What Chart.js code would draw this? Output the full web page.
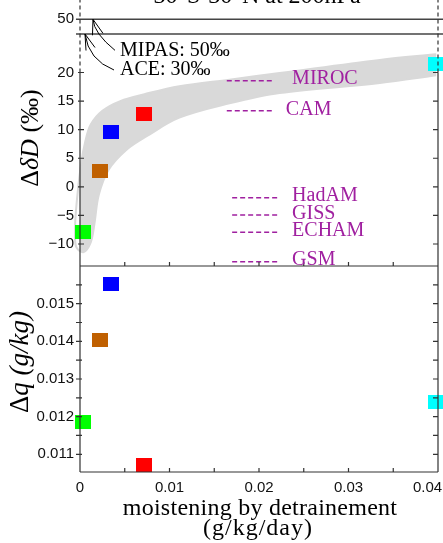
<!DOCTYPE html>
<html>
<head>
<meta charset="utf-8">
<script src="https://cdn.jsdelivr.net/npm/chart.js@4.4.1/dist/chart.umd.min.js"></script>
<style>
  html, body { margin: 0; padding: 0; background: #fff; }
  #wrap { width: 443px; height: 543px; position: relative; }
</style>
</head>
<body>
<div id="wrap"><canvas id="c"></canvas></div>
<script>
// experiments, same order in both panels
const sampleColors = ['#00ff00', '#c06000', '#0000ff', '#ff0000', '#00ffff'];
const detrainment = [0.0003, 0.0022, 0.0035, 0.0071, 0.0398];   // g/kg/day
const deltaDD = [-7.85, 2.85, 9.65, 12.75, 21.5];                // permil
const deltaQ = [0.01185, 0.01404, 0.01551, 0.01072, 0.0124];     // g/kg

// GCM values marked with dashes
const modelNames = ['MIROC', 'CAM', 'HadAM', 'GISS', 'ECHAM', 'GSM'];
const modelDD = [18.57, 13.3, -1.9, -4.95, -7.95, -13.1];

// satellite estimates
const obsNames = ['MIPAS', 'ACE'];
const obsDD = [50, 30];

const bandX = [0.0398, 0.0335, 0.0223, 0.0167, 0.0111, 0.0072, 0.0045, 0.0025, 0.0012, 0.0006, 0.0001,
               -0.00045, -0.00055, -0.0004, 0.0004, 0.0012, 0.0016, 0.0021, 0.0032, 0.0052, 0.0075,
               0.0111, 0.0167, 0.0223, 0.0335, 0.0398];
const bandY = [23.2, 22.2, 19.9, 18.75, 17.6, 16.2, 15.0, 13.3, 10.9, 8.0, 3.8,
               -4.1, -8.0, -10.6, -11.4, -9.7, -6.6, -1.4, 3.0, 6.5, 8.9,
               12.1, 14.6, 16.4, 18.15, 19.5];

const xTicks = [0, 0.01, 0.02, 0.03, 0.04];
const dTicks = [-10, -5, 0, 5, 10, 15, 20];
const qTicks = [0.011, 0.012, 0.013, 0.014, 0.015];

const SERIF = '"Liberation Serif", "DejaVu Serif", serif';
const SANS = '"Liberation Sans", Arial, sans-serif';
const PURPLE = '#a020a0';

// upper part of the dD axis is squeezed (broken axis above 25)
function brk(v) {
  if (v <= 25) return v;
  if (v <= 30) return 25 + (v - 25) * 0.346;
  return 26.73 + (v - 30) * 0.1285;
}

function rectImg(color) {
  const c = document.createElement('canvas');
  c.width = 16; c.height = 14;
  const g = c.getContext('2d');
  g.fillStyle = color;
  g.fillRect(0, 0, 16, 14);
  return c;
}
const markers = sampleColors.map(rectImg);

const datasets = [];

// band
datasets.push({
  data: bandX.map((x, i) => ({x: x, y: bandY[i]})),
  yAxisID: 'yd',
  showLine: true,
  tension: 0.35,
  fill: 'shape',
  backgroundColor: '#d9d9d9',
  borderColor: '#d9d9d9',
  borderWidth: 2,
  pointRadius: 0,
  clip: false,
  order: 10
});

// satellite lines
obsDD.forEach(v => {
  datasets.push({
    data: [{x: -0.00045, y: brk(v)}, {x: 0.0415, y: brk(v)}],
    yAxisID: 'yd',
    showLine: true,
    borderColor: '#444',
    borderWidth: 1.5,
    pointRadius: 0,
    clip: false,
    order: 5
  });
});

// model dashes
modelDD.forEach((v, i) => {
  const x0 = i < 2 ? 0.0164 : 0.017;
  const x1 = i < 2 ? 0.0216 : 0.0223;
  datasets.push({
    data: [{x: x0, y: v}, {x: x1, y: v}],
    yAxisID: 'yd',
    showLine: true,
    borderColor: PURPLE,
    borderWidth: 1.5,
    borderDash: [5, 3],
    pointRadius: 0,
    order: 4
  });
});

// experiments, top and bottom panel
datasets.push({
  data: detrainment.map((x, i) => ({x: x, y: deltaDD[i]})),
  yAxisID: 'yd',
  pointStyle: markers,
  pointRadius: 8,
  clip: false,
  order: 1
});
datasets.push({
  data: detrainment.map((x, i) => ({x: x, y: deltaQ[i]})),
  yAxisID: 'yq',
  pointStyle: markers,
  pointRadius: 8,
  clip: false,
  order: 1
});

function noPad(s) {
  s.paddingTop = 0; s.paddingBottom = 0; s.paddingLeft = 0; s.paddingRight = 0;
}

const decor = {
  id: 'decor',
  afterDatasetsDraw(chart) {
    const {ctx, scales: {x, yd, yq}} = chart;
    const L = x.left, R = x.right;
    const sep = yd.bottom, bot = yq.bottom;
    const y20 = yd.getPixelForValue(20);

    ctx.save();
    ctx.strokeStyle = '#333';
    ctx.lineWidth = 1.2;

    // frame, dashed above 20
    ctx.beginPath();
    ctx.moveTo(L, bot); ctx.lineTo(L, y20);
    ctx.moveTo(R, bot); ctx.lineTo(R, y20);
    ctx.moveTo(L, bot); ctx.lineTo(R, bot);
    ctx.moveTo(L, sep); ctx.lineTo(R, sep);
    ctx.stroke();
    ctx.setLineDash([4, 3]);
    ctx.beginPath();
    ctx.moveTo(L, y20); ctx.lineTo(L, 0);
    ctx.moveTo(R, y20); ctx.lineTo(R, 0);
    ctx.stroke();
    ctx.setLineDash([]);

    // tick marks
    ctx.beginPath();
    for (let v = 0.005; v < 0.04; v += 0.005) {
      const px = x.getPixelForValue(v);
      ctx.moveTo(px, sep); ctx.lineTo(px, sep - 4);
      ctx.moveTo(px, bot); ctx.lineTo(px, bot - 4);
    }
    dTicks.forEach(v => {
      const py = yd.getPixelForValue(v);
      ctx.moveTo(L - 2, py); ctx.lineTo(L + 4, py);
      ctx.moveTo(R - 5, py); ctx.lineTo(R, py);
    });
    for (let v = 0.011; v < 0.0158; v += 0.0005) {
      const py = yq.getPixelForValue(v);
      ctx.moveTo(L - 4, py); ctx.lineTo(L + 2, py);
      ctx.moveTo(R - 5, py); ctx.lineTo(R, py);
    }
    ctx.stroke();

    // title (cut by the top edge)
    ctx.fillStyle = '#000';
    ctx.font = '24px ' + SERIF;
    ctx.textAlign = 'center';
    ctx.textBaseline = 'alphabetic';
    ctx.fillText('30°S-30°N at 200hPa', 257, 3);

    // axis titles
    ctx.letterSpacing = '0.25px';
    ctx.fillText('moistening by detrainement', 260, 515);
    ctx.letterSpacing = '1px';
    ctx.fillText('(g/kg/day)', 258, 535);
    ctx.letterSpacing = '0px';

    function rotTitle(cx, cy, parts, size) {
      ctx.save();
      ctx.translate(cx, cy);
      ctx.rotate(-Math.PI / 2);
      ctx.textAlign = 'left';
      let w = 0;
      parts.forEach(p => { ctx.font = (p[1] ? 'italic ' : '') + size + 'px ' + SERIF; w += ctx.measureText(p[0]).width; });
      let pos = -w / 2;
      parts.forEach(p => {
        ctx.font = (p[1] ? 'italic ' : '') + size + 'px ' + SERIF;
        ctx.fillText(p[0], pos, 0);
        pos += ctx.measureText(p[0]).width;
      });
      ctx.restore();
    }
    rotTitle(38, 138, [['Δ', false], ['δD', true], [' (‰)', false]], 26);
    rotTitle(28, 362, [['Δ', false], ['q (g/kg)', true]], 27);

    // satellite annotations
    ctx.font = '20px ' + SERIF;
    ctx.textAlign = 'left';
    ctx.strokeStyle = '#000';
    ctx.lineWidth = 1;
    const arrows = [
      {tip: [x.getPixelForValue(0.00145), yd.getPixelForValue(brk(obsDD[0]))], c: [1, 14], s: [22, 31], b1: [-0.5, 16], b2: [10, 14], t: [27, 37]},
      {tip: [x.getPixelForValue(0.00056), yd.getPixelForValue(brk(obsDD[1]))], c: [3.5, 26], s: [29, 36], b1: [1, 16.5], b2: [10, 13.5], t: [35, 40.5]}
    ];
    arrows.forEach((a, i) => {
      const [tx, ty] = a.tip;
      ctx.beginPath();
      ctx.moveTo(tx + a.s[0], ty + a.s[1]);
      ctx.quadraticCurveTo(tx + a.c[0], ty + a.c[1], tx, ty);
      ctx.moveTo(tx + a.b1[0], ty + a.b1[1]); ctx.lineTo(tx, ty); ctx.lineTo(tx + a.b2[0], ty + a.b2[1]);
      ctx.stroke();
      ctx.fillText(obsNames[i] + ': ' + obsDD[i] + '‰', tx + a.t[0], ty + a.t[1]);
    });

    // model names, clipped to the upper panel
    ctx.save();
    ctx.beginPath();
    ctx.rect(0, 0, chart.width, sep);
    ctx.clip();
    ctx.fillStyle = PURPLE;
    ctx.font = '20px ' + SERIF;
    ctx.textBaseline = 'middle';
    modelNames.forEach((n, i) => {
      const px = x.getPixelForValue(i === 1 ? 0.0230 : 0.0237);
      ctx.fillText(n, px, yd.getPixelForValue(modelDD[i]) - 1.5);
    });
    ctx.restore();

    ctx.restore();
  }
};

new Chart(document.getElementById('c'), {
  type: 'scatter',
  data: {datasets: datasets},
  options: {
    responsive: true,
    maintainAspectRatio: false,
    animation: false,
    events: [],
    layout: {autoPadding: false, padding: {top: 0, right: 5, bottom: 0, left: 0}},
    plugins: {legend: {display: false}, tooltip: {enabled: false}},
    scales: {
      x: {
        type: 'linear', position: 'bottom', min: 0, max: 0.04,
        grid: {display: false, drawTicks: false}, border: {display: false},
        afterBuildTicks: s => { s.ticks = xTicks.map(v => ({value: v})); },
        afterFit: s => { s.height = 71; noPad(s); },
        ticks: {
          padding: 7, color: '#111', font: {family: SANS, size: 15},
          callback: v => v === 0 ? '0' : (v >= 0.04 ? '0.04     ' : String(+v.toFixed(2)))
        }
      },
      yq: {
        type: 'linear', position: 'left', stack: 'panels', stackWeight: 206,
        min: 0.01053, max: 0.016,
        grid: {display: false, drawTicks: false}, border: {display: false},
        afterBuildTicks: s => { s.ticks = qTicks.map(v => ({value: v})); },
        afterFit: s => { s.width = 80; noPad(s); },
        ticks: {padding: 6, color: '#111', font: {family: SANS, size: 15}, callback: v => v.toFixed(3)}
      },
      yd: {
        type: 'linear', position: 'left', stack: 'panels', stackWeight: 266,
        min: -13.85, max: 32.68,
        grid: {display: false, drawTicks: false}, border: {display: false},
        afterBuildTicks: s => { s.ticks = dTicks.concat([brk(obsDD[0])]).map(v => ({value: v})); },
        afterFit: s => { s.width = 80; noPad(s); },
        ticks: {
          padding: 6, color: '#111', font: {family: SANS, size: 15},
          callback: v => v > 25 ? String(obsDD[0]) : String(v).replace('-', '\u2212')
        }
      }
    }
  },
  plugins: [decor]
});
</script>
</body>
</html>
